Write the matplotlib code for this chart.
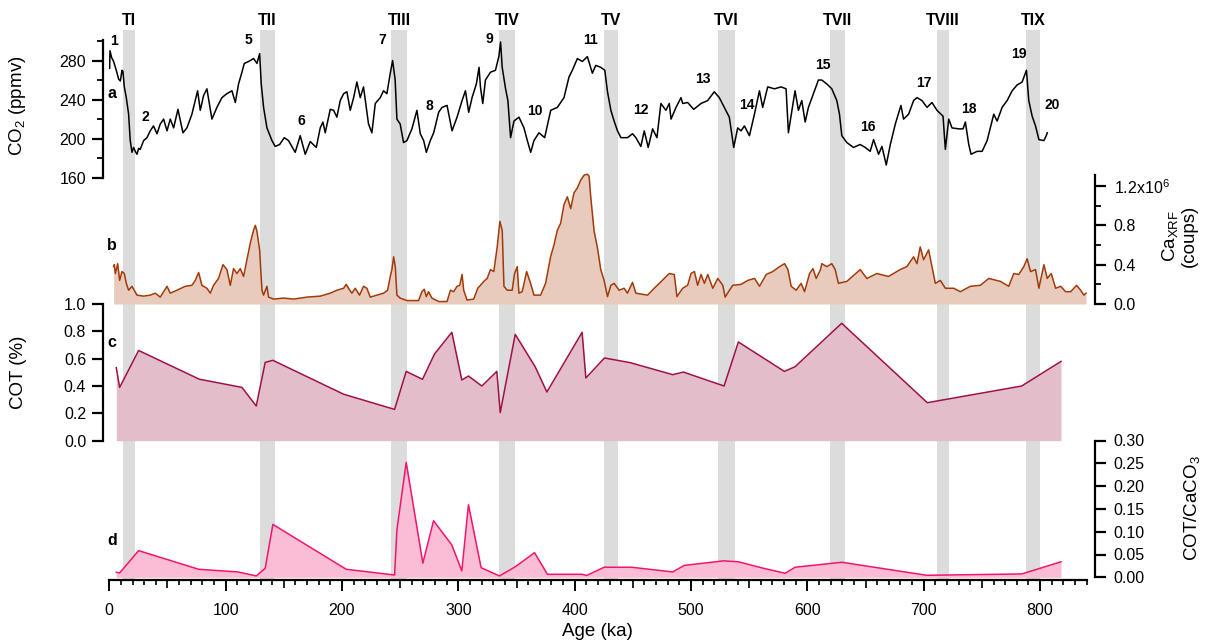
import matplotlib
matplotlib.use('Agg')
import matplotlib.pyplot as plt
from matplotlib.ticker import MultipleLocator, FixedLocator, FormatStrFormatter

plt.rcParams['font.family'] = ['Liberation Sans', 'DejaVu Sans']
plt.rcParams['mathtext.fontset'] = 'custom'
plt.rcParams['mathtext.rm'] = 'Liberation Sans'
plt.rcParams['mathtext.it'] = 'Liberation Sans:italic'
plt.rcParams['mathtext.bf'] = 'Liberation Sans:bold'

# ---------------- data ----------------
co2_age = [0.3, 0.6, 2.0, 3.7, 6.0, 8.0, 9.5, 10.9, 11.7, 12.9, 14.6, 16.6, 18.0, 19.5, 20.9, 22.3, 23.8, 25.2,
           26.6, 29.5, 32.4, 35.2, 38.0, 41.0, 43.8, 46.7, 49.6, 52.4, 55.3, 59.0, 63.3, 66.7, 71.0, 73.9, 75.9,
           78.2, 81.0, 83.9, 88.2, 92.5, 96.8, 101.0, 105.4, 108.3, 111.1, 114.0, 116.0, 119.7, 124.0, 126.9,
           129.2, 130.6, 132.6, 135.5, 139.8, 142.6, 146.4, 150.4, 154.0, 159.8, 164.1, 168.4, 172.7, 177.9,
           181.3, 183.6, 185.6, 189.9, 192.8, 195.6, 198.5, 201.4, 204.2, 207.1, 210.0, 212.8, 215.7, 218.5,
           222.8, 225.7, 228.6, 232.9, 235.7, 238.6, 241.5, 243.5, 245.7, 247.2, 250.0, 252.9, 255.8, 260.1,
           264.4, 267.3, 270.2, 272.5, 275.9, 278.8, 283.1, 286.0, 290.3, 294.6, 298.9, 303.2, 306.1, 308.9,
           311.8, 315.5, 317.8, 319.0, 321.0, 323.3, 327.6, 331.9, 334.8, 336.3, 337.7, 340.6, 342.6, 344.9,
           347.8, 352.1, 356.4, 359.3, 362.2, 365.0, 369.3, 374.2, 379.4, 385.1, 390.8, 395.1, 398.0, 402.3,
           406.6, 410.9, 415.2, 418.1, 422.4, 425.9, 428.2, 431.1, 433.9, 436.8, 439.7, 445.4, 449.7, 452.6,
           456.9, 459.8, 463.2, 467.0, 470.7, 474.1, 478.4, 481.3, 482.8, 487.1, 491.4, 492.8, 497.1, 502.3,
           508.6, 514.3, 520.0, 524.3, 528.6, 532.9, 536.7, 540.1, 543.0, 545.9, 550.2, 554.5, 558.8, 561.6,
           565.9, 571.7, 577.4, 581.7, 583.7, 589.4, 592.3, 595.2, 598.1, 600.9, 605.2, 609.5, 612.4, 616.7,
           621.0, 625.3, 627.6, 629.6, 633.9, 639.6, 645.4, 649.7, 654.0, 656.9, 661.2, 664.1, 667.8, 671.3,
           675.6, 680.4, 682.7, 687.0, 691.3, 694.2, 698.5, 702.8, 707.1, 711.4, 716.6, 718.6, 721.5, 724.3,
           730.1, 733.8, 735.8, 738.7, 740.7, 745.9, 750.2, 754.5, 760.2, 763.1, 767.4, 771.7, 776.0, 780.3,
           784.6, 788.3, 790.3, 793.2, 796.1, 799.0, 803.3, 805.3, 806.2]
co2_ppmv = [272, 290, 283, 279, 270, 261, 259, 270, 269, 253, 242, 225, 198, 186, 191, 187, 184, 190,
            189, 198, 201, 208, 213, 205, 215, 220, 208, 220, 211, 230, 206, 211, 225, 239, 249,
            229, 244, 251, 220, 232, 242, 246, 249, 237, 256, 268, 277, 279, 282, 277,
            287, 256, 232, 211, 198, 192, 194, 201, 198, 186, 203, 184, 197, 191,
            211, 217, 206, 230, 229, 222, 239, 246, 248, 229, 242, 258, 242, 253,
            215, 206, 236, 242, 249, 246, 267, 280, 260, 220, 215, 196, 198, 210,
            229, 205, 198, 186, 198, 206, 227, 232, 234, 208, 222, 239, 249, 227,
            242, 256, 273, 253, 236, 260, 268, 270, 284, 299, 273, 251, 239, 201,
            218, 222, 211, 198, 186, 198, 206, 201, 229, 232, 242, 263, 270, 282,
            279, 284, 267, 275, 273, 270, 248, 229, 218, 208, 201, 201, 205, 201,
            192, 208, 191, 210, 201, 236, 229, 236, 220, 232, 242, 236, 237, 230,
            236, 239, 248, 242, 232, 222, 191, 211, 208, 213, 203, 225, 249, 232,
            253, 251, 253, 251, 206, 249, 229, 239, 217, 232, 246, 260, 260, 256,
            251, 239, 225, 203, 196, 191, 194, 191, 187, 199, 184, 192, 173, 194,
            215, 234, 220, 225, 239, 242, 239, 232, 237, 229, 223, 189, 220, 211,
            210, 210, 217, 194, 184, 187, 187, 198, 225, 218, 232, 239, 249, 255,
            258, 270, 239, 223, 213, 199, 198, 203, 206]

ca_age = [3.7, 4.3, 5.2, 7.2, 8.9, 10.9, 12.9, 14.6, 16.6, 19.5, 23.8, 29.5, 35.2, 39.5, 43.8, 49.6, 52.4,
          58.1, 65.3, 71.0, 73.9, 76.8, 79.6, 83.9, 86.8, 89.6, 93.9, 97.7, 101.1, 104.0, 106.8, 109.7, 112.6,
          115.4, 118.3, 121.2, 124.0, 125.5, 126.9, 129.2, 131.2, 132.6, 135.5, 136.9, 141.2, 149.8, 158.4,
          169.8, 181.3, 189.9, 195.6, 201.4, 203.6, 205.6, 208.5, 211.4, 215.1, 218.5, 221.4, 224.3, 230.0,
          235.7, 239.2, 241.5, 242.9, 244.4, 245.8, 247.2, 250.0, 255.8, 265.8, 268.7, 270.7, 272.5, 274.4,
          277.3, 283.1, 290.3, 293.2, 296.0, 298.9, 301.2, 303.2, 304.6, 307.5, 313.2, 316.7, 319.0, 321.9,
          324.8, 327.6, 330.5, 333.4, 335.7, 337.7, 339.2, 342.0, 346.3, 348.3, 350.6, 352.1, 354.9, 358.7,
          362.1, 365.0, 370.7, 375.0, 379.3, 382.2, 385.1, 387.9, 390.8, 393.7, 396.6, 399.4, 402.3, 405.2,
          408.1, 410.9, 412.4, 413.8, 416.7, 419.6, 422.4, 425.3, 428.2, 431.1, 433.9, 438.2, 442.5, 445.4,
          449.7, 452.6, 462.6, 468.4, 472.7, 477.0, 481.3, 485.6, 487.9, 492.8, 497.1, 500.0, 502.9, 505.7,
          508.6, 511.5, 514.4, 518.7, 523.0, 527.3, 529.3, 533.0, 535.9, 543.1, 548.8, 554.6, 558.9, 564.6,
          570.3, 576.1, 580.4, 583.3, 586.1, 590.4, 594.7, 597.6, 601.9, 604.8, 607.6, 611.3, 612.4, 616.7,
          621.0, 623.9, 626.7, 633.9, 645.4, 651.1, 659.7, 669.7, 679.8, 685.5, 691.3, 694.2, 697.0, 699.9,
          704.2, 707.1, 710.0, 714.3, 718.6, 725.8, 731.5, 740.1, 748.7, 755.9, 765.9, 773.1, 777.4, 781.7,
          786.0, 788.9, 791.8, 796.1, 799.0, 803.3, 806.2, 809.6, 813.4, 817.7, 822.0, 826.3, 831.4, 834.9,
          837.7, 839.5]
ca_counts = [0.38, 0.40, 0.31, 0.41, 0.24, 0.33, 0.31, 0.21, 0.14, 0.18, 0.09, 0.08, 0.09, 0.11, 0.07, 0.18, 0.11,
             0.14, 0.18, 0.19, 0.24, 0.32, 0.19, 0.16, 0.11, 0.19, 0.26, 0.40, 0.35, 0.19, 0.36, 0.31, 0.36,
             0.28, 0.45, 0.62, 0.75, 0.80, 0.74, 0.55, 0.14, 0.09, 0.18, 0.07, 0.05, 0.06, 0.05,
             0.07, 0.08, 0.11, 0.14, 0.16, 0.20, 0.16, 0.11, 0.16, 0.09, 0.18, 0.16, 0.07, 0.09,
             0.11, 0.14, 0.28, 0.35, 0.48, 0.38, 0.09, 0.06, 0.035, 0.035, 0.125, 0.15, 0.075, 0.125,
             0.06, 0.025, 0.025, 0.14, 0.125, 0.18, 0.19, 0.30, 0.14, 0.04, 0.05, 0.16, 0.19, 0.23,
             0.26, 0.35, 0.33, 0.58, 0.84, 0.75, 0.18, 0.14, 0.14, 0.31, 0.38, 0.11, 0.125, 0.33,
             0.21, 0.09, 0.09, 0.21, 0.48, 0.60, 0.75, 0.82, 1.01, 1.09, 0.97, 1.13, 1.18, 1.26,
             1.31, 1.32, 1.30, 1.09, 0.74, 0.57, 0.35, 0.24, 0.075, 0.19, 0.21, 0.14, 0.16, 0.11,
             0.22, 0.11, 0.09, 0.16, 0.21, 0.26, 0.31, 0.30, 0.075, 0.16, 0.19, 0.31, 0.33, 0.19,
             0.30, 0.21, 0.30, 0.16, 0.26, 0.19, 0.07, 0.14, 0.19, 0.20, 0.24, 0.26, 0.18, 0.30,
             0.33, 0.38, 0.41, 0.35, 0.18, 0.14, 0.21, 0.125, 0.31, 0.36, 0.26, 0.35, 0.41, 0.38,
             0.41, 0.35, 0.21, 0.23, 0.35, 0.26, 0.31, 0.28, 0.35, 0.38, 0.48, 0.41, 0.58, 0.45,
             0.55, 0.38, 0.21, 0.24, 0.16, 0.16, 0.125, 0.18, 0.19, 0.26, 0.23, 0.18, 0.31, 0.30,
             0.38, 0.46, 0.33, 0.35, 0.16, 0.40, 0.26, 0.31, 0.16, 0.18, 0.125, 0.125, 0.19, 0.14,
             0.09, 0.11]

cot_age = [6.0, 8.9, 25.2, 77.3, 114.0, 126.3, 134.0, 140.6, 201.4, 245.2, 255.2, 269.2, 279.5, 294.4,
           303.0, 308.7, 320.2, 333.1, 336.0, 348.9, 366.1, 376.1, 406.4, 409.6, 425.6, 447.7, 484.3,
           493.5, 528.4, 540.7, 580.2, 589.4, 629.5, 703.1, 784.2, 818.0]
cot_pct = [0.534, 0.39, 0.66, 0.45, 0.39, 0.254, 0.573, 0.588, 0.34, 0.229, 0.507, 0.449, 0.634, 0.793,
           0.444, 0.473, 0.40, 0.507, 0.205, 0.778, 0.54, 0.356, 0.793, 0.459, 0.605, 0.571, 0.483,
           0.502, 0.40, 0.722, 0.507, 0.541, 0.859, 0.278, 0.40, 0.580]

ratio_age = [6.0, 8.9, 25.2, 76.8, 110.6, 126.3, 134.0, 140.6, 203.6, 245.2, 247.2, 255.2, 269.5, 278.7,
             294.4, 303.0, 308.7, 319.6, 335.4, 348.9, 365.5, 376.6, 406.1, 410.4, 425.3, 449.1, 484.3,
             494.1, 527.9, 540.8, 560.3, 580.9, 589.5, 629.5, 702.6, 784.2, 818.0]
ratio_val = [0.011, 0.0095, 0.0585, 0.0176, 0.0117, 0.003, 0.0198, 0.116, 0.0176, 0.005, 0.104, 0.252,
             0.031, 0.124, 0.071, 0.014, 0.159, 0.021, 0.003, 0.023, 0.054, 0.0066, 0.0066, 0.004, 0.022,
             0.022, 0.0117, 0.026, 0.036, 0.034, 0.021, 0.0088, 0.022, 0.033, 0.0044, 0.0073, 0.034]

term_labels = ['TI', 'TII', 'TIII', 'TIV', 'TV', 'TVI', 'TVII', 'TVIII', 'TIX']
term_start = [11.4, 129.5, 242.3, 335.1, 425.3, 523.6, 619.5, 711.7, 788.0]
term_end = [21.7, 142.0, 255.8, 349.1, 437.6, 537.6, 632.2, 721.5, 799.7]

mis_labels = ['1', '2', '5', '6', '7', '8', '9', '10', '11', '12', '13', '14', '15', '16', '17', '18', '19', '20']
mis_x = [3.7, 31.0, 120.0, 164.7, 235.0, 275.0, 326.8, 366.0, 414.0, 456.9, 510.0, 547.9, 613.2, 652.4,
         700.3, 738.4, 781.9, 810.8]
mis_y = [300, 222, 301, 217.6, 301, 233.5, 301.7, 228.6, 301, 229.6, 261, 234.8, 275, 212, 257, 230,
         286.5, 234.8]

# ---------------- layout ----------------
W, H = 1207, 642
fig = plt.figure(figsize=(W / 100, H / 100), dpi=100)
X0, X1 = 109.3, 1086.6
XMAX = 840


def rect(y_top, y_bot):
    return [X0 / W, 1 - y_bot / H, (X1 - X0) / W, (y_bot - y_top) / H]


PT = 72 / 100.0  # points per pixel

band_col = '#dcdcdc'
ax_bg = fig.add_axes(rect(30, 580))
ax_bg.set_xlim(0, XMAX)
ax_bg.set_ylim(0, 1)
ax_bg.axis('off')
for s, e in zip(term_start, term_end):
    ax_bg.axvspan(s, e, color=band_col, lw=0)
for lab, s, e in zip(term_labels, term_start, term_end):
    ax_bg.text((s + e) / 2, 1 + (30 - 20.8) / 550, lab, ha='center', va='center',
               fontsize=11.5, fontweight='bold', transform=ax_bg.get_xaxis_transform())


def setup(ax, side, ylim):
    ax.set_xlim(0, XMAX)
    ax.set_ylim(*ylim)
    ax.patch.set_alpha(0)
    for s in ['top', 'bottom', 'left', 'right']:
        ax.spines[s].set_visible(False)
    ax.tick_params(axis='x', which='both', bottom=False, top=False, labelbottom=False)
    sp = ax.spines[side]
    sp.set_visible(True)
    sp.set_linewidth(1.6)
    if side == 'left':
        sp.set_position(('outward', 6.5 * PT))
        ax.yaxis.set_ticks_position('left')
        pad = 4
    else:
        sp.set_position(('outward', 8.3 * PT))
        ax.yaxis.set_ticks_position('right')
        pad = 5.5
    ax.tick_params(axis='y', which='major', length=11 * PT, width=1.6, labelsize=11.5, pad=pad)
    ax.tick_params(axis='y', which='minor', length=6 * PT, width=1.3)


# panel a: CO2
ax_a = fig.add_axes(rect(40, 177.7))
setup(ax_a, 'left', (160, 301))
ax_a.yaxis.set_major_locator(FixedLocator([160, 200, 240, 280]))
ax_a.yaxis.set_minor_locator(FixedLocator([180, 220, 260, 300]))
ax_a.plot(co2_age, co2_ppmv, color='black', lw=1.1)
for lab, x, y in zip(mis_labels, mis_x, mis_y):
    ax_a.text(x, y, lab, ha='center', va='center', fontsize=10, fontweight='bold')
ax_a.text(2.3, 246, 'a', ha='center', va='center', fontsize=11.5, fontweight='bold')

# panel b: Ca XRF
ax_b = fig.add_axes(rect(175, 304))
setup(ax_b, 'right', (0, 1.312))
ax_b.yaxis.set_major_locator(FixedLocator([0.0, 0.4, 0.8, 1.2]))
ax_b.yaxis.set_minor_locator(FixedLocator([0.2, 0.6, 1.0]))
ax_b.set_yticklabels(['0.0', '0.4', '0.8', '1.2x10$^{6}$'])
ax_b.fill_between(ca_age, 0, ca_counts, color='#e8cbbd', lw=0, clip_on=False)
ax_b.plot(ca_age, ca_counts, color='#a13a08', lw=1.1, clip_on=False)
ax_b.text(2.3, 0.6, 'b', ha='center', va='center', fontsize=11.5, fontweight='bold')

# panel c: COT
ax_c = fig.add_axes(rect(304, 440.7))
setup(ax_c, 'left', (0, 1.0))
ax_c.yaxis.set_major_locator(MultipleLocator(0.2))
ax_c.yaxis.set_major_formatter(FormatStrFormatter('%.1f'))
ax_c.fill_between(cot_age, 0, cot_pct, color='#e4bdcb', lw=0)
ax_c.plot(cot_age, cot_pct, color='#9e1048', lw=1.1)
ax_c.text(2.3, 0.72, 'c', ha='center', va='center', fontsize=11.5, fontweight='bold')

# panel d: COT/CaCO3
ax_d = fig.add_axes(rect(440.5, 577.3))
setup(ax_d, 'right', (0, 0.30))
ax_d.yaxis.set_major_locator(MultipleLocator(0.05))
ax_d.yaxis.set_major_formatter(FormatStrFormatter('%.2f'))
ax_d.fill_between(ratio_age, 0, ratio_val, color='#fbbcd6', lw=0)
ax_d.plot(ratio_age, ratio_val, color='#f0146c', lw=1.1)
ax_d.text(2.3, 0.08, 'd', ha='center', va='center', fontsize=11.5, fontweight='bold')

# x axis
sb = ax_d.spines['bottom']
sb.set_visible(True)
sb.set_linewidth(1.6)
sb.set_position(('outward', 2.7 * PT))
ax_d.tick_params(axis='x', which='both', bottom=True, labelbottom=True)
ax_d.xaxis.set_major_locator(MultipleLocator(100))
ax_d.xaxis.set_minor_locator(FixedLocator([v for v in range(0, XMAX + 1, 10) if v % 50]))
ax_d.tick_params(axis='x', which='major', length=11.5 * PT, width=1.4, labelsize=11.5, pad=8)
ax_d.tick_params(axis='x', which='minor', length=5 * PT, width=1.2)
sec = ax_d.secondary_xaxis('bottom')
sec.spines['bottom'].set_visible(False)
sec.spines['bottom'].set_position(('outward', 2.7 * PT))
sec.set_xticks([v for v in range(50, XMAX, 100)])
sec.tick_params(axis='x', length=8.3 * PT, width=1.2, labelbottom=False)

# axis labels
fig.text(597.8 / W, 1 - 632 / H, 'Age (ka)', ha='center', va='center', fontsize=13.5)
fig.text(18 / W, 1 - 106 / H, 'CO$_2$ (ppmv)', ha='center', va='center', rotation=90, fontsize=13.5)
fig.text(18.5 / W, 1 - 372 / H, 'COT (%)', ha='center', va='center', rotation=90, fontsize=13.5)
fig.text(1179 / W, 1 - 236 / H, 'Ca$_{\\mathrm{XRF}}$\n(coups)', ha='center', va='center', rotation=90,
         fontsize=13.5, linespacing=1.0)
fig.text(1191.5 / W, 1 - 508 / H, 'COT/CaCO$_3$', ha='center', va='center', rotation=90, fontsize=13.5)

fig.savefig('out.png', dpi=100)
